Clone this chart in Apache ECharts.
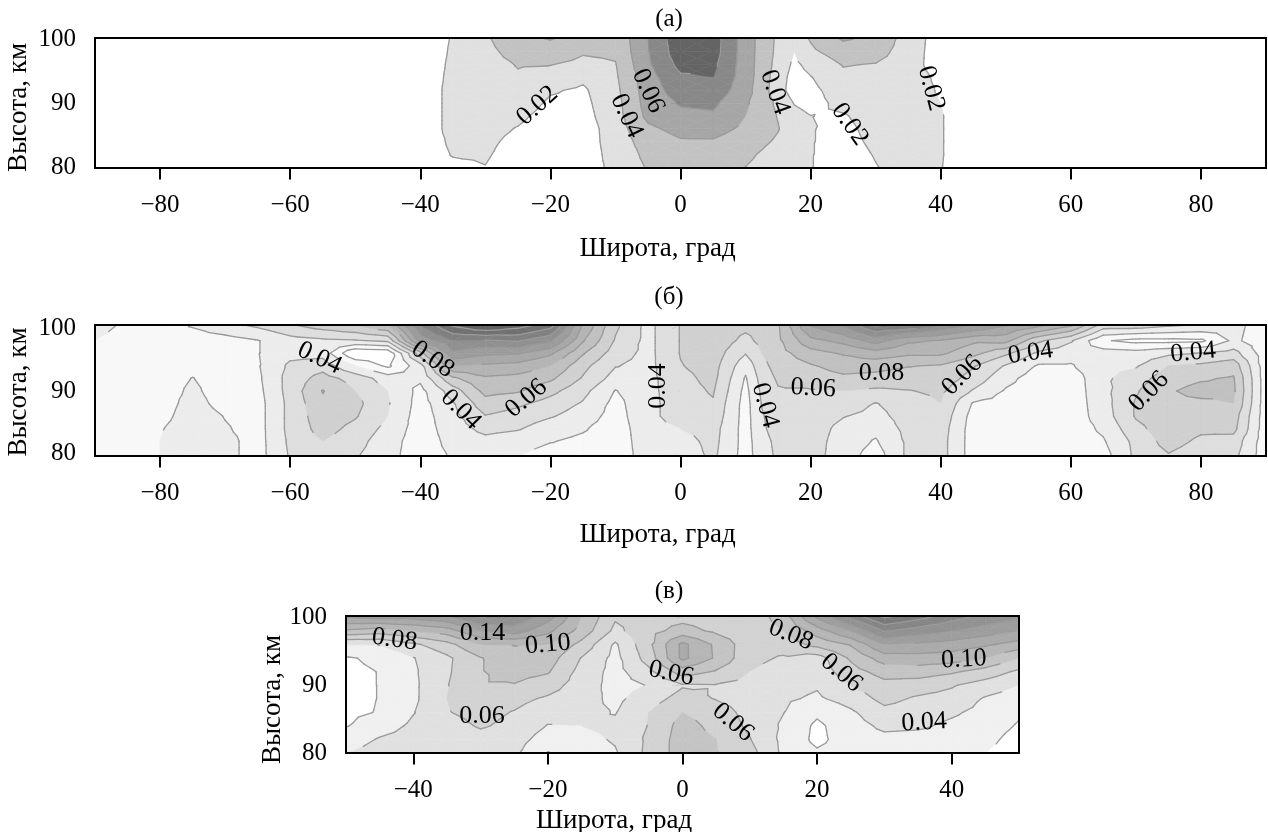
<!DOCTYPE html>
<html>
<head>
<meta charset="utf-8">
<style>
  html, body { margin: 0; background: #fff; }
  #chart { width: 1268px; height: 832px; }
</style>
<script src="https://cdn.jsdelivr.net/npm/echarts@6/dist/echarts.min.js"></script>
</head>
<body>
<div id="chart"></div>
<script>
// высоты строк таблиц (сверху вниз), км
const heightsAB = [100.5, 98, 96, 94, 92, 90, 88, 86, 84, 82, 79.6];
const heightsC = [100.2, 98, 96, 94, 92, 90, 88, 86, 84, 82, 80];

// (а) значения в сотых, строки сверху вниз
const latsA = [-90, -40, -35, -30, -25, -20, -15, -10, -5, 0, 5, 10, 15, 17.5, 20, 25, 30, 35, 40, 45, 90];
const valuesA = [
  [1, 1, 2.1, 3.8, 5.5, 6.3, 5.6, 4.5, 8, 11.5, 11, 7, 3.6, 3.3, 4.3, 6.5, 5.6, 3.2, 1, 1, 1],
  [1, 1, 2.2, 3.4, 4.8, 5.2, 4.2, 4.3, 7.9, 11.2, 10.9, 7, 3.5, 2, 3.6, 5, 4.8, 3, 1, 1, 1],
  [1, 1, 2.3, 3.2, 4.1, 4.05, 3.5, 3.9, 7.7, 10.6, 10.5, 7, 3.3, 1.6, 2.6, 4.1, 3.9, 2.9, 1, 1, 1],
  [1, 1, 2.4, 3.1, 3.8, 3.3, 2.4, 3.7, 7.2, 9.7, 10, 7, 3, 1.2, 1.9, 3.6, 3.4, 2.9, 1.6, 1, 1],
  [1, 1, 2.5, 3, 3.4, 2.2, 1.7, 3.5, 7, 9, 9.3, 6.8, 2.9, 1, 1.5, 3, 3.1, 2.9, 1.8, 1, 1],
  [1, 1, 2.5, 2.9, 3, 1.7, 1.5, 3.3, 6.8, 8.2, 8.4, 6.3, 3.6, 1.9, 1.4, 2.5, 2.9, 2.9, 2, 1, 1],
  [1, 1, 2.5, 2.8, 2.4, 1.3, 1.3, 3.2, 6.5, 7.5, 7.7, 6, 3.9, 2.6, 2.02, 1.85, 2.7, 2.9, 2.1, 1, 1],
  [1, 1, 2.5, 2.6, 1.9, 1, 1, 3, 5.6, 6.6, 6.7, 5.6, 4.1, 2.9, 2.08, 1.6, 2.5, 2.9, 2.1, 1, 1],
  [1, 1, 2.3, 2.4, 1.5, 1, 1, 2.9, 4.9, 5.8, 5.8, 5, 3.7, 2.8, 2.08, 1.5, 2.3, 2.8, 2.1, 1, 1],
  [1, 1, 2.1, 2.2, 1.2, 1, 1, 2.7, 4.5, 5.2, 5, 4.4, 3.2, 2.6, 2.08, 1.3, 2.1, 2.7, 2.1, 1, 1],
  [1, 1, 1.5, 1.9, 1, 1, 1, 2.5, 4.1, 4.7, 4.6, 3.9, 2.9, 2.5, 2.08, 1, 1.9, 2.6, 2.05, 1, 1]
];
const levelsA = [2, 4, 6, 8, 10];
const colorsA = ['#ffffff', '#e0e0e0', '#c2c2c2', '#a6a6a6', '#888888', '#646464'];
const labelsA = [
  [-22, 89.6, 0.02, 42], [-8.3, 88, 0.04, -65], [-5, 91.9, 0.06, -65],
  [14.5, 91.7, 0.04, -70], [26, 86.7, 0.02, -55], [38.5, 92.3, 0.02, -75]
];

// (б) значения в шагах изолиний; столбцы по широте, внутри сверху вниз
const latsB = [-90, -85, -80, -75, -70, -65, -60, -55, -50, -45, -40, -35, -30, -25, -20, -15, -10, -5, 0, 5, 7.5, 10, 12.5, 15, 20, 25, 30, 35, 40, 45, 50, 55, 60, 65, 70, 75, 80, 85, 90];
const columnsB = [
  [3.4, 3, 2.5, 2.5, 2.5, 2.5, 2.5, 2.5, 2.5, 2.5, 2.5],
  [2.8, 2.5, 2.5, 2.5, 2.5, 2.5, 2.5, 2.5, 2.5, 2.5, 2.5],
  [2.5, 2.5, 2.5, 2.5, 2.5, 2.5, 2.5, 2.6, 2.9, 3, 3],
  [3.1, 2.5, 2.5, 2.7, 3.03, 3.2, 3.4, 3.6, 3.7, 3.8, 3.8],
  [3.7, 2.6, 2.5, 2.5, 2.5, 2.5, 2.6, 2.95, 3.1, 3.3, 3.3],
  [4.2, 2.95, 2.95, 2.9, 2.8, 2.7, 2.6, 2.6, 2.6, 2.6, 2.6],
  [4.9, 3.6, 3.7, 4.2, 4.4, 4.4, 4.3, 4.3, 4.3, 4.2, 4.1],
  [5.5, 3.8, 3.6, 4.6, 5.4, 6.05, 5.8, 5.6, 5.4, 5, 4.6],
  [6, 3.9, 1, 3, 4.6, 5, 5.3, 5.1, 4.7, 4.4, 4.1],
  [7, 4.2, 1.2, 1.8, 3.5, 4, 4.1, 4, 3.7, 3.4, 3.3],
  [11, 9.4, 5.6, 3.6, 3.2, 2.7, 2.6, 2.5, 2.5, 2.5, 2.5],
  [13.2, 11, 9.8, 8, 5.8, 4.5, 3.9, 3.7, 3.5, 3.3, 3.1],
  [14.1, 10.9, 9.2, 7.8, 6.85, 6.3, 5.6, 4.95, 4.3, 3.7, 3.3],
  [13.5, 11.1, 9.1, 7.6, 6.7, 6.1, 5.2, 4.6, 4.1, 3.4, 3],
  [12.5, 10.2, 8.2, 7, 6.2, 5.3, 4.6, 4.1, 3.4, 3.05, 2.6],
  [7.9, 7.1, 6.1, 5.3, 4.9, 4.3, 3.9, 3.5, 3.1, 2.8, 2.6],
  [5.2, 4.9, 4.5, 4.05, 3.6, 2.95, 2.7, 2.6, 2.5, 2.5, 2.5],
  [3.7, 3.7, 3.7, 3.7, 3.7, 3.7, 3.7, 3.7, 3.6, 3.5, 3.4],
  [5.05, 5.05, 5.05, 4.95, 4.7, 4.6, 4.5, 4.5, 4, 3.6, 3.4],
  [5.6, 5.6, 5.5, 5.4, 5.3, 5.1, 4.9, 4.7, 4.4, 4.3, 4.2],
  [5.4, 5.2, 4.8, 4.4, 4.1, 3.9, 3.7, 3.6, 3.5, 3.5, 3.4],
  [5.3, 4.7, 4.05, 3.3, 2.9, 2.7, 2.6, 2.6, 2.6, 2.6, 2.6],
  [5.4, 5.3, 5, 4.7, 4.4, 4.2, 4.05, 3.9, 3.8, 3.6, 3.5],
  [5.9, 5.8, 5.6, 5.4, 5.15, 4.9, 4.7, 4.6, 4.5, 4.3, 4.2],
  [9.1, 7.7, 6.6, 5.9, 5.5, 4.9, 4.7, 4.6, 4.5, 4.4, 4.4],
  [10.1, 8.3, 7.1, 6.4, 5.8, 5, 4.6, 4.05, 3.7, 3.6, 3.5],
  [12.2, 9.4, 7.6, 6.3, 5.7, 4.8, 3.95, 3.7, 3.3, 2.9, 2.5],
  [12, 8.2, 7.2, 6.05, 5.5, 4.95, 4.5, 4.4, 4.3, 4.2, 4.2],
  [11, 7.9, 7.2, 5.9, 5.6, 5.2, 5, 4.7, 4.5, 4.4, 4.4],
  [10, 7.2, 6.3, 5.1, 4.6, 3.9, 2.9, 2.6, 2.5, 2.5, 2.5],
  [9.1, 7.3, 5.2, 3.9, 3.3, 2.9, 2.6, 2.5, 2.5, 2.5, 2.5],
  [8.3, 5.2, 3.8, 2.9, 2.5, 2.5, 2.5, 2.5, 2.5, 2.5, 2.5],
  [7.2, 4.1, 3.4, 2.9, 2.4, 2.4, 2.4, 2.4, 2.4, 2.4, 2.4],
  [4.6, 2.1, 3.5, 3.8, 3.8, 3.7, 3.6, 3.5, 3.2, 2.9, 2.6],
  [4.6, 1.7, 3.4, 3.9, 4.5, 4.9, 5.1, 5.1, 4.7, 4.3, 4.2],
  [4.2, 1.7, 3.8, 5, 5.6, 5.9, 5.8, 5.7, 5.6, 5.4, 4.9],
  [3.9, 1.8, 4.05, 5.2, 5.9, 6.3, 5.8, 5.5, 5.2, 4.8, 4.4],
  [3.3, 3.2, 4.4, 5.6, 6.1, 6.2, 6, 5.5, 5.3, 4.6, 4.3],
  [2.5, 2.4, 2.4, 2.4, 2.4, 2.4, 2.4, 2.4, 2.4, 2.4, 2.4]
];
const levelsB = [2, 3, 4, 5, 6, 7, 8, 9, 10, 11, 12, 13, 14];
const colorsB = ['#ffffff', '#f8f8f8', '#ececec', '#dedede', '#d0d0d0', '#c0c0c0', '#b4b4b4', '#a8a8a8', '#9c9c9c', '#909090', '#808080', '#707070', '#606060', '#505050'];
const labelsB = [
  [-55.5, 95.2, 0.04, -25], [-38.1, 95, 0.08, -35], [-33.8, 87, 0.04, -45], [-23.7, 88.8, 0.06, 40],
  [-3.5, 90.8, 0.04, 90], [13, 87.7, 0.04, -75], [20.4, 90.4, 0.06, -3], [30.9, 92.9, 0.08, 0],
  [43.3, 92.5, 0.06, 45], [53.8, 96, 0.04, 8], [72, 89.9, 0.06, 45], [78.8, 96.1, 0.04, 5]
];

// (в) значения в сотых; столбцы по широте, внутри сверху вниз
const latsC = [-50, -45, -40, -35, -30, -25, -20, -15, -10, -5, 0, 5, 10, 15, 20, 25, 30, 35, 40, 45, 50];
const columnsC = [
  [14.5, 9.6, 4, 1.8, 1.6, 1.5, 1.5, 1.6, 1.9, 2.8, 4],
  [15, 9, 4.1, 2.4, 2.05, 2.05, 2.05, 2.1, 3, 4.2, 4.9],
  [15, 10, 5.6, 3.9, 3.7, 3.6, 3.6, 3.9, 4.4, 4.8, 4.9],
  [16, 11, 7.3, 5.6, 5.7, 5.9, 6, 5.9, 5.2, 4.7, 4.2],
  [18.5, 14, 10, 7.9, 7.9, 7.9, 6.9, 6.6, 6.2, 5.3, 4.1],
  [18, 15, 10.1, 9.2, 8.7, 7.9, 6.6, 5.9, 5.5, 4.9, 4.4],
  [15, 12.5, 10, 9, 8.2, 6.9, 5.7, 4.8, 3.9, 3, 1.9],
  [10, 9.2, 7.4, 5.9, 5.3, 5, 4.8, 4.6, 4, 3.4, 3],
  [6.3, 5.5, 3.7, 3.4, 3.3, 3.3, 3.5, 3.9, 4.4, 4.2, 3.8],
  [7, 7.3, 7.5, 6.9, 5.5, 4.1, 5.1, 6, 6.1, 6.4, 6.5],
  [7.2, 8.8, 12.5, 12.5, 9, 5.8, 6.8, 8, 8.8, 9, 9],
  [6.8, 7.6, 9.6, 9.7, 7.8, 5.9, 5.9, 7, 7.4, 8, 8.1],
  [6.4, 6.5, 6.7, 6.5, 6, 5.3, 5.1, 5.3, 5.6, 6.1, 6.7],
  [9.2, 8, 6.8, 5.8, 5.2, 4.7, 4.3, 4.05, 3.7, 3.5, 3.6],
  [14.5, 11, 8.6, 5.1, 4.8, 4.2, 3.7, 2.4, 1.6, 1.5, 2.3],
  [19, 14, 10.2, 8.3, 7.2, 6, 4.8, 3.7, 3.2, 3, 3],
  [22.5, 18.2, 14, 11, 8.8, 7.4, 6.6, 5.4, 4.4, 3.5, 3],
  [21, 17, 13.6, 11.2, 9, 7, 5.7, 5, 4.3, 3.3, 3],
  [19, 16, 13.1, 11, 8.3, 6.2, 5.3, 4.3, 3.6, 3, 2.4],
  [17.5, 15, 12.3, 10, 7.2, 5.1, 3.8, 3.4, 3, 2.6, 2],
  [16.5, 14, 11.2, 8, 5.6, 4, 3, 2.3, 1.8, 1.2, 0.9]
];
const levelsC = [2, 4, 6, 8, 10, 12, 14, 16, 18, 20, 22];
const colorsC = ['#ffffff', '#f0f0f0', '#e0e0e0', '#d2d2d2', '#c4c4c4', '#b6b6b6', '#aaaaaa', '#9e9e9e', '#929292', '#868686', '#7a7a7a', '#6e6e6e'];
const labelsC = [
  [-42.8, 96.7, 0.08, -8], [-29.7, 97.7, 0.14, 0], [-20, 96, 0.10, 5], [-29.8, 85.4, 0.06, 0],
  [-1.7, 91.7, 0.06, -12], [7.5, 84.5, 0.06, -40], [16.1, 97.4, 0.08, -22], [23.6, 91.8, 0.06, -40],
  [41.8, 93.8, 0.10, 3], [35.9, 84.5, 0.04, 3]
];

const xTicksAB = [-80, -60, -40, -20, 0, 20, 40, 60, 80];
const xTicksC = [-40, -20, 0, 20, 40];
const yTicks = [80, 90, 100];
const fontFamily = '"Liberation Serif", serif';

// столбцы -> строки
function toRows(columns) {
  return columns[0].map((_, r) => columns.map(c => c[r]));
}

const panels = [
  { lats: latsA, heights: heightsAB, values: valuesA, levels: levelsA, colors: colorsA, labels: labelsA, xTicks: xTicksAB,
    xRange: [-90, 90], yRange: [79.9, 100.15], left: 95, width: 1171, top: 38, height: 130, title: '(а)', titleTop: 2,
    nameGapX: 67, namePadX: 46, namePadY: 9, nameGapY: 63 },
  { lats: latsB, heights: heightsAB, values: toRows(columnsB), levels: levelsB, colors: colorsB, labels: labelsB, xTicks: xTicksAB,
    xRange: [-90, 90], yRange: [79.65, 100.5], left: 95, width: 1171, top: 325, height: 131, title: '(б)', titleTop: 280,
    nameGapX: 65, namePadX: 46, namePadY: 3, nameGapY: 63 },
  { lats: latsC, heights: heightsC, values: toRows(columnsC), levels: levelsC, colors: colorsC, labels: labelsC, xTicks: xTicksC,
    xRange: [-50, 50], yRange: [80, 100.2], left: 346, width: 673, top: 616, height: 137, title: '(в)', titleTop: 574,
    nameGapX: 54, namePadX: 137, namePadY: 30, nameGapY: 60 }
];

// обрезка многоугольника по полуплоскости v >= lim (sign=1) или v <= lim (sign=-1)
function clipPoly(poly, lim, sign) {
  const out = [];
  for (let i = 0; i < poly.length; i++) {
    const a = poly[i], b = poly[(i + 1) % poly.length];
    const ina = sign * (a[2] - lim) >= 0, inb = sign * (b[2] - lim) >= 0;
    if (ina) out.push(a);
    if (ina !== inb) {
      const t = (lim - a[2]) / (b[2] - a[2]);
      out.push([a[0] + t * (b[0] - a[0]), a[1] + t * (b[1] - a[1]), lim]);
    }
  }
  return out;
}

function contourRenderer(panel) {
  return function (params, api) {
    const c = api.value(2), r = api.value(3);
    const { lats, heights, values, levels, colors } = panel;
    const corner = (cc, rr) => {
      const p = api.coord([lats[cc], heights[rr]]);
      return [p[0], p[1], values[rr][cc]];
    };
    const q = [corner(c, r), corner(c + 1, r), corner(c + 1, r + 1), corner(c, r + 1)];
    const mid = [0, 1, 2].map(k => (q[0][k] + q[1][k] + q[2][k] + q[3][k]) / 4);
    const children = [];
    for (let i = 0; i < 4; i++) {
      const tri = [q[i], q[(i + 1) % 4], mid];
      for (let b = 0; b < colors.length; b++) {
        let poly = tri;
        if (b > 0) poly = clipPoly(poly, levels[b - 1], 1);
        if (poly.length && b < levels.length) poly = clipPoly(poly, levels[b], -1);
        if (poly.length > 2) {
          children.push({
            type: 'polygon',
            shape: { points: poly.map(p => [p[0], p[1]]) },
            style: { fill: colors[b], stroke: colors[b], lineWidth: 0.6 },
            z2: 1
          });
        }
      }
      levels.forEach(lv => {
        const pts = [];
        for (let e = 0; e < 3; e++) {
          const a = tri[e], d = tri[(e + 1) % 3];
          if ((a[2] - lv) * (d[2] - lv) < 0) {
            const t = (lv - a[2]) / (d[2] - a[2]);
            pts.push([a[0] + t * (d[0] - a[0]), a[1] + t * (d[1] - a[1])]);
          }
        }
        if (pts.length === 2) {
          children.push({
            type: 'line',
            shape: { x1: pts[0][0], y1: pts[0][1], x2: pts[1][0], y2: pts[1][1] },
            style: { stroke: '#9a9a9a', lineWidth: 1.3, lineCap: 'round' },
            z2: 2
          });
        }
      });
    }
    return { type: 'group', children };
  };
}

function labelRenderer(params, api) {
  const p = api.coord([api.value(0), api.value(1)]);
  return {
    type: 'text',
    x: p[0], y: p[1],
    rotation: api.value(3) * Math.PI / 180,
    style: {
      text: Number(api.value(2)).toFixed(2),
      font: '26px ' + fontFamily,
      fill: '#000',
      align: 'center',
      verticalAlign: 'middle'
    }
  };
}

const option = {
  backgroundColor: '#fff',
  animation: false,
  title: panels.map(p => ({
    text: p.title, left: 664, top: p.titleTop, textAlign: 'center',
    textStyle: { fontFamily, fontSize: 25, fontWeight: 'normal', color: '#000' }
  })),
  grid: panels.map(p => ({
    left: p.left, top: p.top, width: p.width, height: p.height, outerBoundsMode: 'none',
    show: true, z: 5, borderWidth: 2, borderColor: '#000', backgroundColor: 'transparent'
  })),
  xAxis: panels.map((p, i) => ({
    type: 'value', gridIndex: i, min: p.xRange[0], max: p.xRange[1],
    name: 'Широта, град', nameLocation: 'middle', nameGap: p.nameGapX, nameMoveOverlap: false,
    nameTextStyle: { fontFamily, fontSize: 27, color: '#000', padding: [0, p.namePadX, 0, 0] },
    axisLine: { show: false },
    axisTick: { show: true, length: 11.5, customValues: p.xTicks, lineStyle: { color: '#000', width: 2 } },
    axisLabel: { show: true, customValues: p.xTicks, margin: 25, fontFamily, fontSize: 25, color: '#000',
      formatter: v => String(v).replace('-', '−') },
    splitLine: { show: false }
  })),
  yAxis: panels.map((p, i) => ({
    type: 'value', gridIndex: i, min: p.yRange[0], max: p.yRange[1],
    name: 'Высота, км', nameLocation: 'middle', nameGap: p.nameGapY, nameRotate: 90, nameMoveOverlap: false,
    nameTextStyle: { fontFamily, fontSize: 27, color: '#000', padding: [0, p.namePadY, 0, 0] },
    axisLine: { show: false },
    axisTick: { show: true, length: 10, customValues: yTicks, lineStyle: { color: '#000', width: 2 } },
    axisLabel: { show: true, customValues: yTicks, margin: 19, fontFamily, fontSize: 25, color: '#000' },
    splitLine: { show: false }
  })),
  series: []
};

panels.forEach((p, i) => {
  const cells = [];
  for (let r = 0; r < p.heights.length - 1; r++) {
    for (let c = 0; c < p.lats.length - 1; c++) {
      cells.push([p.lats[c], (p.heights[r] + p.heights[r + 1]) / 2, c, r]);
    }
  }
  option.series.push({
    type: 'custom', xAxisIndex: i, yAxisIndex: i, coordinateSystem: 'cartesian2d',
    renderItem: contourRenderer(p), data: cells, clip: true, silent: true, z: 2,
    encode: { x: 0, y: 1 }
  });
  option.series.push({
    type: 'custom', xAxisIndex: i, yAxisIndex: i, coordinateSystem: 'cartesian2d',
    renderItem: labelRenderer, data: p.labels, silent: true, z: 10,
    encode: { x: 0, y: 1 }
  });
});

const chart = echarts.init(document.getElementById('chart'), null, { renderer: 'canvas' });
chart.setOption(option);
</script>
</body>
</html>
